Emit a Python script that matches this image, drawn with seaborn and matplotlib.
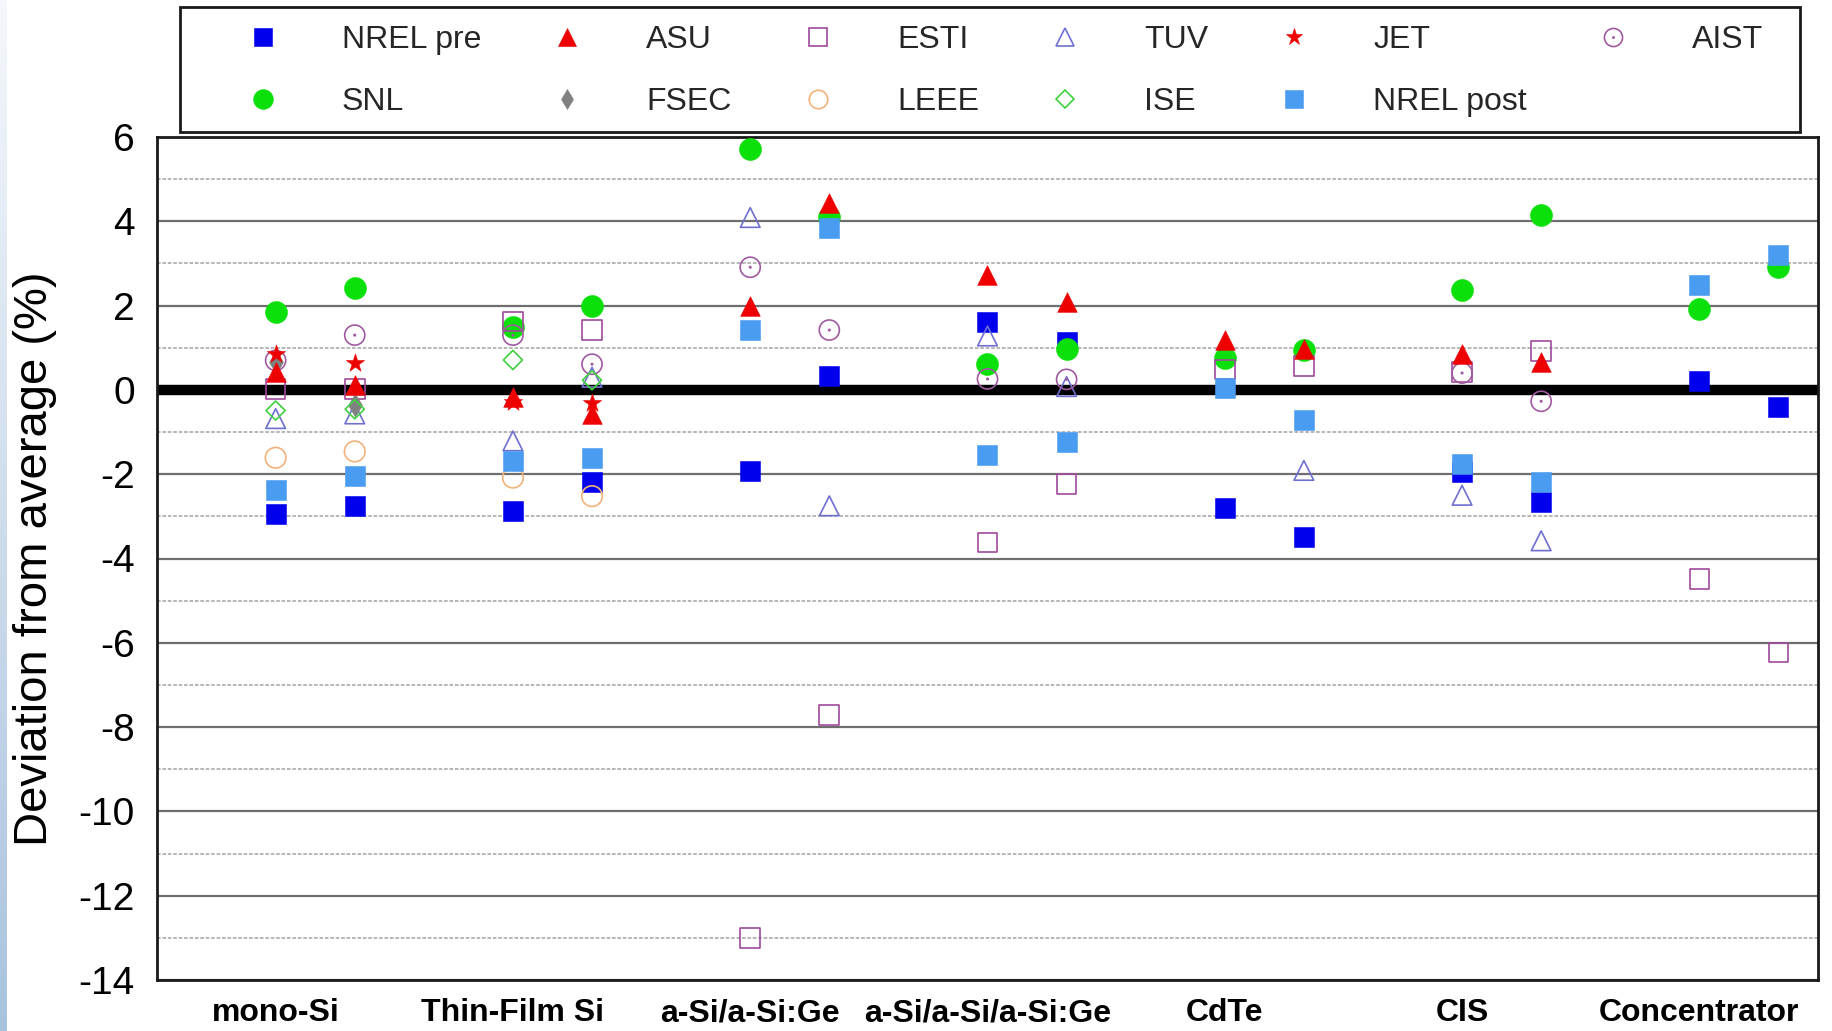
import numpy as np
import pandas as pd
import matplotlib
matplotlib.use("Agg")
import matplotlib.pyplot as plt
from matplotlib.lines import Line2D
from matplotlib.patches import Rectangle
from matplotlib.path import Path
from matplotlib.transforms import Affine2D
import seaborn as sns

# ---------------------------------------------------------------- data
categories = ["mono-Si", "Thin-Film Si", "a-Si/a-Si:Ge", "a-Si/a-Si/a-Si:Ge",
              "CdTe", "CIS", "Concentrator"]
# two modules per technology -> 14 columns (first, second module of each)
nan = np.nan
nrel_pre  = [-2.94, -2.75, -2.88, -2.18, -1.93, 0.32, 1.61, 1.14, -2.80, -3.50, -1.95, -2.67, 0.22, -0.40]
asu       = [0.42, 0.11, -0.18, -0.57, 1.98, 4.44, 2.73, 2.08, 1.19, 0.98, 0.86, 0.67, nan, nan]
esti      = [0.02, 0.02, 1.62, 1.42, -13.0, -7.72, -3.62, -2.24, 0.48, 0.57, 0.42, 0.92, -4.48, -6.23]
tuv       = [-0.68, -0.57, -1.21, 0.30, 4.09, -2.75, 1.28, 0.08, nan, -1.91, -2.50, -3.58, nan, nan]
jet       = [0.86, 0.65, -0.28, -0.32, nan, nan, nan, nan, nan, nan, nan, nan, nan, nan]
aist      = [0.70, 1.30, 1.30, 0.61, 2.91, 1.42, 0.26, 0.25, nan, nan, 0.40, -0.27, nan, nan]
snl       = [1.85, 2.42, 1.50, 1.98, 5.72, 4.10, 0.61, 0.97, 0.75, 0.95, 2.37, 4.16, 1.92, 2.92]
fsec      = [0.66, -0.35, nan, nan, nan, nan, nan, nan, nan, nan, nan, nan, nan, nan]
leee      = [-1.61, -1.46, -2.08, -2.52, nan, nan, nan, nan, nan, nan, nan, nan, nan, nan]
ise       = [-0.49, -0.46, 0.71, 0.23, nan, nan, nan, nan, nan, nan, nan, nan, nan, nan]
nrel_post = [-2.38, -2.05, -1.69, -1.61, 1.41, 3.83, -1.54, -1.23, 0.05, -0.71, -1.75, -2.18, 2.50, 3.19]

# ------------------------------------------------------------- styling
ring_dot = Path.make_compound_path(
    Path.unit_circle(),
    Path.unit_circle().transformed(Affine2D().scale(0.07)),
)

# name, values, marker, face, edge, size(s)
series = [
    ("NREL pre",  nrel_pre,  "s",      "#0000ee", "#0000ee", 200),
    ("SNL",       snl,       "o",      "#0be00b", "#0be00b", 250),
    ("ESTI",      esti,      "s",      "none",    "#a04a9c", 200),
    ("TUV",       tuv,       "^",      "none",    "#6f6fd0", 200),
    ("AIST",      aist,      ring_dot, "none",    "#a05aa0", 210),
    ("FSEC",      fsec,      "d",      "#808080", "#808080", 140),
    ("LEEE",      leee,      "o",      "none",    "#f2b27a", 220),
    ("ISE",       ise,       "D",      "none",    "#3ed23e", 95),
    ("ASU",       asu,       "^",      "#ee0000", "#ee0000", 200),
    ("JET",       jet,       "*",      "#ee0000", "#ee0000", 190),
    ("NREL post", nrel_post, "s",      "#4a9cf0", "#4a9cf0", 200),
]

# x position of every column: category index, second module offset by 1/3
slot = np.repeat(np.arange(len(categories)), 2) + np.tile([0.0, 1.0 / 3.0], len(categories))

rows = []
for name, vals, *_ in series:
    for x, v in zip(slot, vals):
        rows.append({"lab": name, "x": x, "dev": v})
df = pd.DataFrame(rows).dropna()

# ------------------------------------------------------------- figure
sns.set_theme(style="white")
plt.rcParams["font.family"] = ["Liberation Sans", "DejaVu Sans"]

W, H = 1833, 1031
fig = plt.figure(figsize=(W / 100, H / 100), dpi=100)
fig.patch.set_facecolor("white")

# pale blue slide edge on the left
edge = fig.add_axes([0, 0, 7 / W, 1])
grad = np.linspace(0, 1, 256)[:, None]
edge.imshow(grad, aspect="auto", cmap=matplotlib.colors.LinearSegmentedColormap.from_list(
    "edge", ["#f4f7fb", "#a9c3de"]), extent=[0, 1, 0, 1])
edge.set_axis_off()

ax = fig.add_axes([157 / W, 51 / H, (1818 - 157) / W, (980 - 137) / H])

for name, vals, marker, face, edgec, size in series:
    sub = df[df["lab"] == name]
    filled = face != "none"
    sns.scatterplot(data=sub, x="x", y="dev", ax=ax, marker=marker, s=size,
                    facecolor=face, edgecolor=edgec,
                    linewidth=0.4 if filled else 1.2, legend=False, zorder=3)

ax.set_xlim(-0.5, 6.5)
ax.set_ylim(-14, 6)
ax.set_xticks(np.arange(len(categories)))
ax.set_xticklabels(categories, fontsize=23, fontweight="bold")
ax.set_yticks(np.arange(-14, 7, 2))
ax.set_yticks(np.arange(-13, 6, 2), minor=True)
ax.set_yticklabels([str(v) for v in range(-14, 7, 2)], fontsize=28)
ax.tick_params(axis="x", length=0, pad=13, colors="black")
ax.tick_params(axis="y", which="both", length=0, pad=16, colors="black")

ax.grid(False)
ax.set_axisbelow(True)
ax.yaxis.grid(True, which="major", color="#6e6e6e", linewidth=1.6)
ax.yaxis.grid(True, which="minor", color="#b0b0b0", linewidth=1.3, linestyle=(0, (2, 1)))
ax.axhline(0, color="black", linewidth=7.5, zorder=2)

for sp in ax.spines.values():
    sp.set_color("#1a1a1a")
    sp.set_linewidth(2.0)

ax.set_xlabel("")
ax.set_ylabel("Deviation from average (%)", fontsize=34, color="black")
ax.yaxis.set_label_coords(-0.0600, 0.5)

# ------------------------------------------------------------- legend
legend_order = ["NREL pre", "SNL", "ASU", "FSEC", "ESTI", "LEEE",
                "TUV", "ISE", "JET", "NREL post", "AIST"]
style = {s[0]: s for s in series}
handles = []
for name in legend_order:
    _, _, marker, face, edgec, size = style[name]
    ms = np.sqrt(size) * 0.9
    handles.append(Line2D([], [], linestyle="", marker=marker, markersize=ms,
                          markerfacecolor=face, markeredgecolor=edgec,
                          markeredgewidth=0.4 if face != "none" else 1.2,
                          label=name))
fig.legend(handles=handles, ncol=6, loc="upper left",
           bbox_to_anchor=(247 / W, 1 - 25 / H), frameon=False,
           fontsize=23, borderpad=0, borderaxespad=0, handlelength=1.0,
           handletextpad=1.97, columnspacing=2.2, labelspacing=1.0)
fig.add_artist(Rectangle((180 / W, 1 - 132 / H), (1800 - 180) / W, (132 - 7) / H,
                         transform=fig.transFigure, fill=False,
                         edgecolor="#1a1a1a", linewidth=2.0))

fig.savefig("out.png", dpi=100)
